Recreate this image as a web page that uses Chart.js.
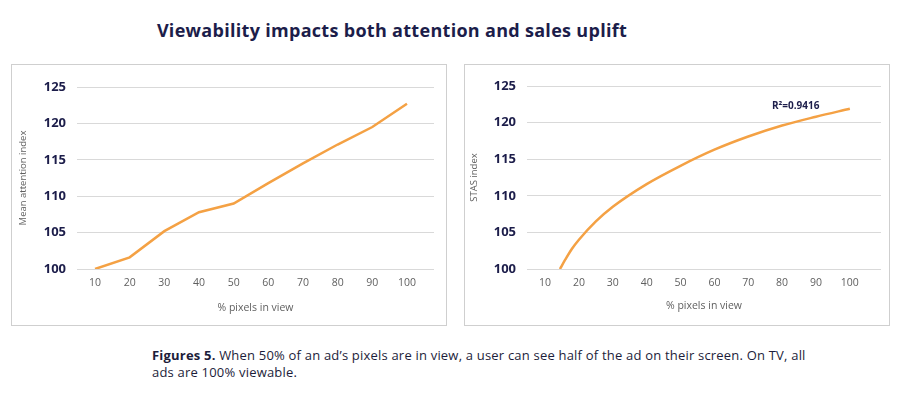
<!DOCTYPE html>
<html>
<head>
<meta charset="utf-8">
<script src="https://cdn.jsdelivr.net/npm/chart.js@4.4.1/dist/chart.umd.min.js"></script>
<style>
  body { margin: 0; width: 900px; height: 397px; background: #fff; position: relative; overflow: hidden; font-family: 'Open Sans', sans-serif; }
  h1 { position: absolute; left: 0; width: 784px; top: 19px; margin: 0; text-align: center; font-size: 18px; line-height: 22px; font-weight: 700; letter-spacing: 0.3px; color: #1c1d4a; }
  .panel { position: absolute; top: 64px; height: 260px; border: 1px solid #cfcfcf; background: #fff; }
  #p1 { left: 11px; width: 434px; }
  #p2 { left: 464px; width: 424px; }
  .caption { position: absolute; left: 152px; top: 347px; width: 740px; font-size: 13px; line-height: 16.5px; letter-spacing: 0.2px; color: #1c1d3a; }
</style>
</head>
<body>
<h1>Viewability impacts both attention and sales uplift</h1>
<div class="panel" id="p1"><canvas id="c1" width="434" height="260"></canvas></div>
<div class="panel" id="p2"><canvas id="c2" width="424" height="260"></canvas></div>
<div class="caption"><b>Figures 5.</b> When 50% of an ad’s pixels are in view, a user can see half of the ad on their screen. On TV, all<br>ads are 100% viewable.</div>
<script>
// x tick labels, % pixels in view
const xTicks = [10, 20, 30, 40, 50, 60, 70, 80, 90, 100]
const yTicks = [100, 105, 110, 115, 120, 125]

// left: mean attention index per % in view
const attentionX = [10, 20, 30, 40, 50, 60, 70, 80, 90, 100]
const attentionY = [100, 101.6, 105.2, 107.8, 109.0, 111.8, 114.5, 117.1, 119.5, 122.7]

// right: STAS index (log trendline)
const stasX = [14.4, 16, 18, 20, 25, 30, 40, 50, 60, 70, 80, 90, 100]
const stasY = [100, 101.3, 102.8, 104.0, 106.5, 108.5, 111.6, 114.1, 116.3, 118.1, 119.6, 120.8, 121.9]
const rSquaredText = 'R²=0.9416'

const ORANGE = '#f4a144'
const NAVY = '#1c1d4a'
const GREY = '#5f5f5f'
const FONT = 'Open Sans'

const toPoints = (xs, ys) => xs.map((x, i) => ({ x, y: ys[i] }))

// draws the R² label at a data position on the right chart
const rLabel = {
  id: 'rLabel',
  afterDatasetsDraw: (chart, args, opts) => {
    if (!opts.text) return
    const { ctx, scales } = chart
    ctx.save()
    ctx.font = `bold 10px ${FONT}`
    ctx.fillStyle = NAVY
    ctx.textAlign = 'center'
    ctx.textBaseline = 'middle'
    ctx.fillText(opts.text, scales.x.getPixelForValue(opts.x), scales.y.getPixelForValue(opts.y))
    ctx.restore()
  }
}

const makeOptions = ({ yTitle, xMin, xMax, yWidth, titlePad, top, right, xTitlePad, label }) => ({
  responsive: false,
  animation: false,
  layout: { padding: { top, right, bottom: 0, left: 0 } },
  plugins: { legend: { display: false }, tooltip: { enabled: false }, rLabel: label || {} },
  elements: { point: { radius: 0 } },
  scales: {
    x: {
      type: 'linear',
      min: xMin,
      max: xMax,
      afterBuildTicks: scale => { scale.ticks = xTicks.map(value => ({ value })) },
      afterFit: scale => { scale.height = 56 },
      grid: { display: false, drawTicks: false },
      border: { display: false },
      ticks: { color: GREY, font: { family: FONT, size: 10.5 }, padding: 8, maxRotation: 0 },
      title: { display: true, text: '% pixels in view', color: GREY, font: { family: FONT, size: 10.5 }, padding: { top: 0, bottom: xTitlePad } }
    },
    y: {
      min: 100,
      max: 125,
      afterBuildTicks: scale => { scale.ticks = yTicks.map(value => ({ value })) },
      afterFit: scale => { scale.width = yWidth },
      grid: { color: '#d9d9d9', drawTicks: false },
      border: { display: false },
      ticks: { color: NAVY, font: { family: FONT, size: 13, weight: 'bold' }, padding: 11 },
      title: { display: true, text: yTitle, color: GREY, font: { family: FONT, size: 9.5 }, padding: { top: titlePad, bottom: 0 } }
    }
  }
})

new Chart(document.getElementById('c1'), {
  type: 'line',
  data: {
    datasets: [{ data: toPoints(attentionX, attentionY), borderColor: ORANGE, borderWidth: 2.5, tension: 0 }]
  },
  options: makeOptions({ yTitle: 'Mean attention index', xMin: 4.8, xMax: 107.8, yWidth: 65, titlePad: 6, top: 22, right: 12, xTitlePad: 10.3 })
})

new Chart(document.getElementById('c2'), {
  type: 'line',
  data: {
    datasets: [{ data: toPoints(stasX, stasY), borderColor: ORANGE, borderWidth: 2.5, cubicInterpolationMode: 'monotone' }]
  },
  options: makeOptions({ yTitle: 'STAS index', xMin: 4.67, xMax: 109.2, yWidth: 62, titlePad: 4, top: 21, right: 8, xTitlePad: 12.5, label: { text: rSquaredText, x: 84, y: 122.2 } }),
  plugins: [rLabel]
})
</script>
</body>
</html>
